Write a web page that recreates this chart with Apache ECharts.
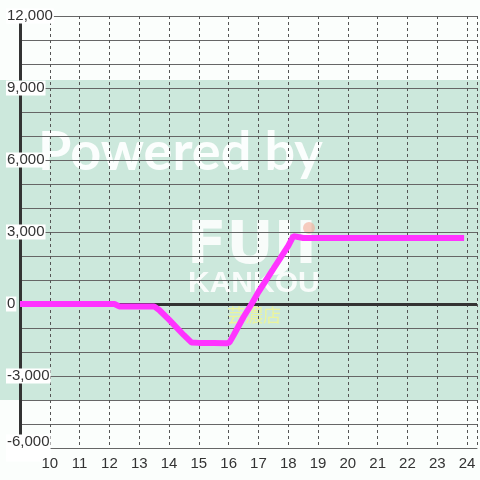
<!DOCTYPE html>
<html>
<head>
<meta charset="utf-8">
<script src="https://cdn.jsdelivr.net/npm/echarts@6/dist/echarts.min.js"></script>
<style>
html, body { margin: 0; padding: 0; background: #fbfefc; }
#main { width: 480px; height: 480px; }
</style>
</head>
<body>
<div id="main"></div>
<script>
// 時刻（時）と値
var hours = [9, 12.17, 12.33, 13.5, 13.67, 14, 14.5, 14.75, 15, 15.5, 15.93, 16.03, 16.17, 16.5, 16.77, 17, 17.5, 18, 18.17, 18.33, 18.5, 23.9];
var values = [0, 0, -100, -100, -250, -650, -1300, -1600, -1620, -1620, -1640, -1600, -1290, -540, 0, 500, 1460, 2420, 2830, 2790, 2750, 2750];
var xTickLabels = [10, 11, 12, 13, 14, 15, 16, 17, 18, 19, 20, 21, 22, 23, 24];
var yTickLabels = [-6000, -3000, 0, 3000, 6000, 9000, 12000];
var bandRange = [-4000, 9333];

var chart = echarts.init(document.getElementById('main'));

var lineData = [];
for (var i = 0; i < hours.length; i++) {
	lineData.push([hours[i], values[i]]);
}

var option = {
	animation: false,
	backgroundColor: '#fbfefc',
	grid: { left: 20, right: 0, top: 16, bottom: 32 },
	xAxis: {
		type: 'value',
		min: 9,
		max: 24.333,
		interval: 1,
		axisLine: { show: true, onZero: false, lineStyle: { color: '#666', width: 1 } },
		axisTick: { show: false },
		axisLabel: {
			color: '#333',
			fontSize: 15,
			fontFamily: 'Liberation Sans, Arial',
			margin: 8,
			showMaxLabel: true,
			formatter: function (v) {
				return xTickLabels.indexOf(v) >= 0 ? String(v) : '';
			}
		},
		splitLine: { show: true, lineStyle: { color: '#555', width: 1, type: [3, 3] } }
	},
	yAxis: {
		type: 'value',
		min: -6000,
		max: 12000,
		interval: 1000,
		axisLine: { show: true, lineStyle: { color: '#333', width: 3 } },
		axisTick: { show: false },
		axisLabel: {
			align: 'left',
			margin: 14,
			formatter: function (v) {
				if (yTickLabels.indexOf(v) < 0) return '';
				// 一番下のラベルは少し上にずらす
				if (v === yTickLabels[0]) return '{low|' + v.toLocaleString('en-US') + '}';
				return '{b|' + v.toLocaleString('en-US') + '}';
			},
			rich: {
				b: {
					color: '#333',
					fontSize: 15,
					fontFamily: 'Liberation Sans, Arial',
					backgroundColor: '#fff',
					padding: [0, 1]
				},
				low: {
					color: '#333',
					fontSize: 15,
					fontFamily: 'Liberation Sans, Arial',
					backgroundColor: '#fff',
					padding: [0, 1, 12, 1]
				}
			}
		},
		splitLine: { show: true, lineStyle: { color: '#666', width: 1 } }
	},
	series: [
		{
			type: 'line',
			data: [],
			z: 2,
			markLine: {
				silent: true,
				symbol: 'none',
				label: { show: false },
				lineStyle: { color: '#333', width: 3, type: 'solid' },
				data: [{ yAxis: 0 }]
			}
		},
		{
			type: 'line',
			data: lineData,
			symbol: 'none',
			z: 5,
			lineStyle: { color: '#ff33ff', width: 6 }
		}
	]
};
chart.setOption(option);

// 背景の帯と透かし
var yTop = chart.convertToPixel({ gridIndex: 0 }, [9, bandRange[1]])[1];
var yBot = chart.convertToPixel({ gridIndex: 0 }, [9, bandRange[0]])[1];

chart.setOption({
	graphic: [
		{
			type: 'rect',
			z: -2,
			silent: true,
			shape: { x: 0, y: yTop, width: 480, height: yBot - yTop },
			style: { fill: '#cce8dc' }
		},
		{
			type: 'text',
			z: -1,
			silent: true,
			style: {
				x: 38, y: 153, text: 'Powered by',
				font: 'bold 54px Lato',
				verticalAlign: 'middle',
				fill: 'rgba(255,255,255,0.92)'
			}
		},
		{
			type: 'text',
			z: -1,
			silent: true,
			style: {
				x: 187, y: 248, text: 'FUJI',
				font: 'bold 58px "DejaVu Sans"',
				verticalAlign: 'middle',
				fill: 'rgba(255,255,255,0.85)'
			}
		},
		{
			type: 'text',
			z: -1,
			silent: true,
			style: {
				x: 188, y: 284, text: 'KANKOU',
				font: 'bold 30px "Liberation Sans"',
				verticalAlign: 'middle',
				fill: 'rgba(255,255,255,0.85)'
			}
		},
		{
			type: 'circle',
			z: -1,
			silent: true,
			shape: { cx: 309, cy: 228, r: 6 },
			style: { fill: 'rgba(245,170,150,0.6)' }
		},
		{
			type: 'text',
			z: -1,
			silent: true,
			style: {
				x: 227, y: 315, text: '芸濃店',
				font: '18px "Noto Sans CJK JP"',
				verticalAlign: 'middle',
				fill: 'rgba(238,245,150,0.9)'
			}
		}
	]
});
</script>
</body>
</html>
